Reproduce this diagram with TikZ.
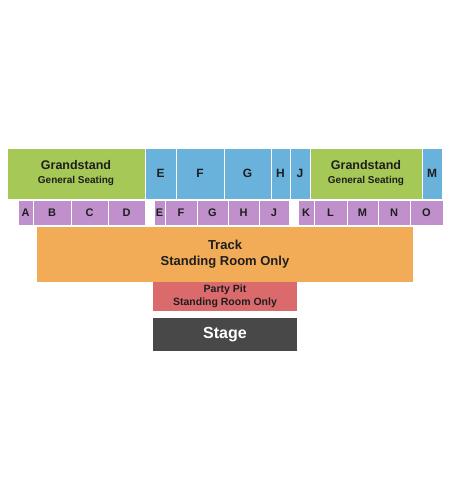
\documentclass[tikz,border=0pt]{standalone}
\usepackage{fontspec}
\setmainfont{Liberation Sans}
\usetikzlibrary{positioning}
\definecolor{gsGreen}{RGB}{166,200,86}
\definecolor{boxBlue}{RGB}{104,178,220}
\definecolor{rowPurple}{RGB}{192,144,204}
\definecolor{trackOr}{RGB}{242,172,88}
\definecolor{pitRed}{RGB}{219,106,108}
\definecolor{stageGr}{RGB}{72,72,72}
\definecolor{txt}{RGB}{30,30,30}
\newcommand{\fs}[2]{\fontsize{#1}{#2}\selectfont}
\tikzset{
  sec/.style={draw=white,line width=0.8pt,inner sep=0pt,align=center,
    text=txt,font=\bfseries\fs{12}{14}},
  gs/.style={sec,fill=gsGreen,minimum height=51pt,font=\bfseries\fs{12.5}{14}},
  upper/.style={sec,fill=boxBlue,minimum height=51pt},
  lower/.style={sec,fill=rowPurple,minimum height=25pt,font=\bfseries\fs{11}{13}},
  floorbox/.style={sec,draw=none,font=\bfseries\fs{13}{16.5}},
}
\begin{document}
\begin{tikzpicture}[x=1pt,y=-1pt]
  \path[use as bounding box] (0,0) rectangle (450,500);
  % upper level
  \node[gs,minimum width=138pt] (gsL) at (76,173.5)
    {Grandstand\\{\fs{10}{12}General Seating}};
  \node[upper,minimum width=31pt] (uE) at (160.5,173.5) {E};
  \node[upper,minimum width=48pt] (uF) at (200,173.5) {F};
  \node[upper,minimum width=47pt] (uG) at (247.5,173.5) {G};
  \node[upper,minimum width=19pt] (uH) at (280.5,173.5) {H};
  \node[upper,minimum width=20pt] (uJ) at (300,173.5) {J};
  \node[gs,minimum width=112pt] (gsR) at (366,173.5)
    {Grandstand\\{\fs{10}{12}General Seating}};
  \node[upper,minimum width=20pt] (uM) at (432,173.5) {M};
  % lower level
  \node[lower,minimum width=15pt] (lA) at (25.5,212.5) {A};
  \node[lower,minimum width=38pt] (lB) at (52,212.5) {B};
  \node[lower,minimum width=37pt] (lC) at (89.5,212.5) {C};
  \node[lower,minimum width=37pt] (lD) at (126.5,212.5) {D};
  \node[lower,minimum width=11pt] (lE) at (159.5,212.5) {E};
  \node[lower,minimum width=32pt] (lF) at (181,212.5) {F};
  \node[lower,minimum width=31pt] (lG) at (212.5,212.5) {G};
  \node[lower,minimum width=31pt] (lH) at (243.5,212.5) {H};
  \node[lower,minimum width=30pt] (lJ) at (274,212.5) {J};
  \node[lower,minimum width=16pt] (lK) at (306,212.5) {K};
  \node[lower,minimum width=33pt] (lL) at (330.5,212.5) {L};
  \node[lower,minimum width=31pt] (lM) at (362.5,212.5) {M};
  \node[lower,minimum width=32pt] (lN) at (394,212.5) {N};
  \node[lower,minimum width=33pt] (lO) at (426.5,212.5) {O};
  % floor
  \node[floorbox,fill=trackOr,minimum width=376pt,minimum height=55pt]
    (track) at (225,254) {Track\\Standing Room Only};
  \node[floorbox,fill=pitRed,minimum width=144pt,minimum height=29pt,
    font=\bfseries\fs{10.5}{13}] (pit) at (225,296.5)
    {Party Pit\\Standing Room Only};
  \node[floorbox,fill=stageGr,minimum width=144pt,minimum height=33pt,
    text=white,font=\bfseries\fs{16}{18}] (stage) at (225,334.5) {Stage};
\end{tikzpicture}
\end{document}
